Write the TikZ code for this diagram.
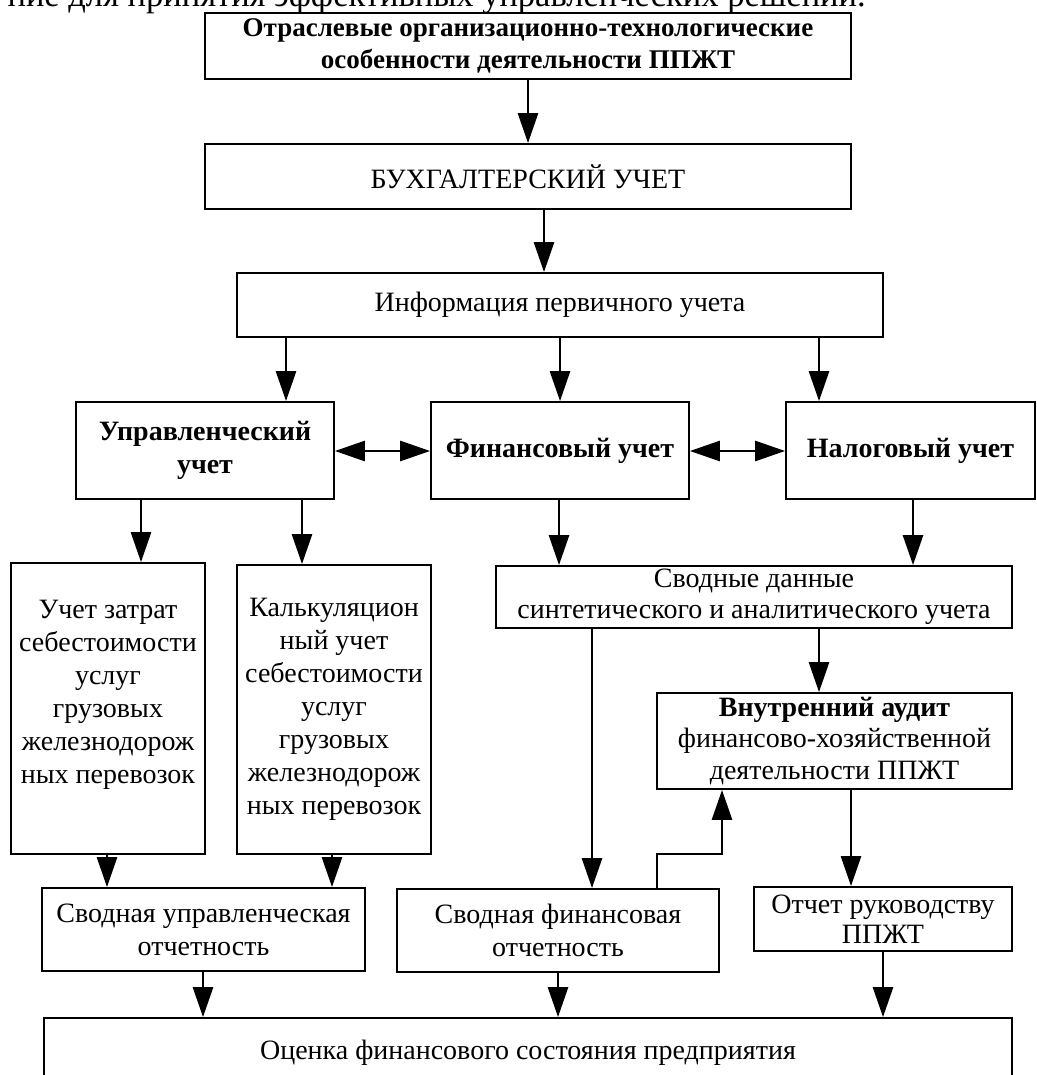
\documentclass[tikz,border=0pt]{standalone}
\usepackage{fontspec}
\setmainfont{Liberation Serif}
\usetikzlibrary{arrows.meta}
\begin{document}
\begin{tikzpicture}[x=1pt,y=-1pt,
  box/.style={draw, line width=1.8pt, inner sep=0pt, align=center, font=\fontsize{28}{33}\selectfont},
  bbox/.style={box, font=\fontsize{27}{31.5}\selectfont\bfseries},
  arr/.style={line width=2.7pt, -{Triangle[length=30pt,width=20pt]}},
  darr/.style={line width=2.7pt, {Triangle[length=30pt,width=20pt]}-{Triangle[length=30pt,width=20pt]}}]
\useasboundingbox (0,0) rectangle (1036,1075);
\begin{scope}
\clip (0,0) rectangle (1036,1075);
\node[anchor=base east, inner sep=0pt, font=\fontsize{34.5}{40}\selectfont] (cut) at (866,7) {ние для принятия эффективных управленческих решений.};

\node[bbox, minimum width=646, minimum height=66] (top) at (528,46) {Отраслевые организационно-технологические\\особенности деятельности ППЖТ};
\node[box, minimum width=646, minimum height=65] (buh) at (528,176.5) {БУХГАЛТЕРСКИЙ УЧЕТ};
\node[box, minimum width=646, minimum height=64] (info) at (560,305) {Информация первичного учета};
\node[bbox, font=\fontsize{28}{33}\selectfont\bfseries, minimum width=258, minimum height=97] (upr) at (205,450.5) {Управленческий\\учет};
\node[bbox, font=\fontsize{28}{33}\selectfont\bfseries, minimum width=258, minimum height=97] (fin) at (560,450.5) {Финансовый учет};
\node[bbox, font=\fontsize{28}{33}\selectfont\bfseries, minimum width=249, minimum height=97] (nal) at (910.5,450.5) {Налоговый учет};
\node[box, minimum width=194, minimum height=291] (zat) at (108,708.5) {Учет затрат\\себестоимости\\услуг\\грузовых\\железнодорож\\ных перевозок\\~};
\node[box, minimum width=194, minimum height=289] (kal) at (334,709.5) {Калькуляцион\\ный учет\\себестоимости\\услуг\\грузовых\\железнодорож\\ных перевозок};
\node[box, font=\fontsize{28}{31}\selectfont, minimum width=516, minimum height=62] (svd) at (754,597) {Сводные данные\\синтетического и аналитического учета};
\node[box, font=\fontsize{28}{31.5}\selectfont, minimum width=355, minimum height=96] (aud) at (834.5,741) {\textbf{Внутренний аудит}\\финансово-хозяйственной\\деятельности ППЖТ};
\node[box, minimum width=323, minimum height=83] (svu) at (203.5,929.5) {Сводная управленческая\\отчетность};
\node[box, minimum width=322, minimum height=83] (svf) at (558,930.5) {Сводная финансовая\\отчетность};
\node[box, font=\fontsize{28}{30}\selectfont, minimum width=258, minimum height=64] (otc) at (883,919) {Отчет руководству\\ППЖТ};
\node[draw, line width=1.8pt, minimum width=968, minimum height=62, inner sep=0pt] (oce) at (528,1049) {};
\node[font=\fontsize{28}{33}\selectfont, inner sep=0pt] (ocet) at (528,1053) {Оценка финансового состояния предприятия};

\draw[arr] (top.south) -- (buh.north);
\draw[arr] (buh.south -| 544,0) -- (info.north -| 544,0);
\draw[arr] (info.south -| 286,0) -- (upr.north -| 286,0);
\draw[arr] (info.south -| 560,0) -- (fin.north -| 560,0);
\draw[arr] (info.south -| 819,0) -- (nal.north -| 819,0);
\draw[darr] (upr.east |- 0,451) -- (fin.west |- 0,451);
\draw[darr] (fin.east |- 0,451) -- (nal.west |- 0,451);
\draw[arr] (upr.south -| 141,0) -- (zat.north -| 141,0);
\draw[arr] (upr.south -| 302,0) -- (kal.north -| 302,0);
\draw[arr] (fin.south -| 559,0) -- (svd.north -| 559,0);
\draw[arr] (nal.south -| 913,0) -- (svd.north -| 913,0);
\draw[arr] (svd.south -| 592,0) -- (svf.north -| 592,0);
\draw[arr] (svd.south -| 819,0) -- (aud.north -| 819,0);
\draw[arr] (svf.north -| 657,0) -- (657,854) -- (722,854) -- (aud.south -| 722,0);
\draw[arr] (aud.south -| 851,0) -- (otc.north -| 851,0);
\draw[arr] (zat.south -| 107,0) -- (svu.north -| 107,0);
\draw[arr] (kal.south -| 332,0) -- (svu.north -| 332,0);
\draw[arr] (svu.south -| 203,0) -- (oce.north -| 203,0);
\draw[arr] (svf.south -| 558,0) -- (oce.north -| 558,0);
\draw[arr] (otc.south -| 883,0) -- (oce.north -| 883,0);
\end{scope}
\end{tikzpicture}
\end{document}
